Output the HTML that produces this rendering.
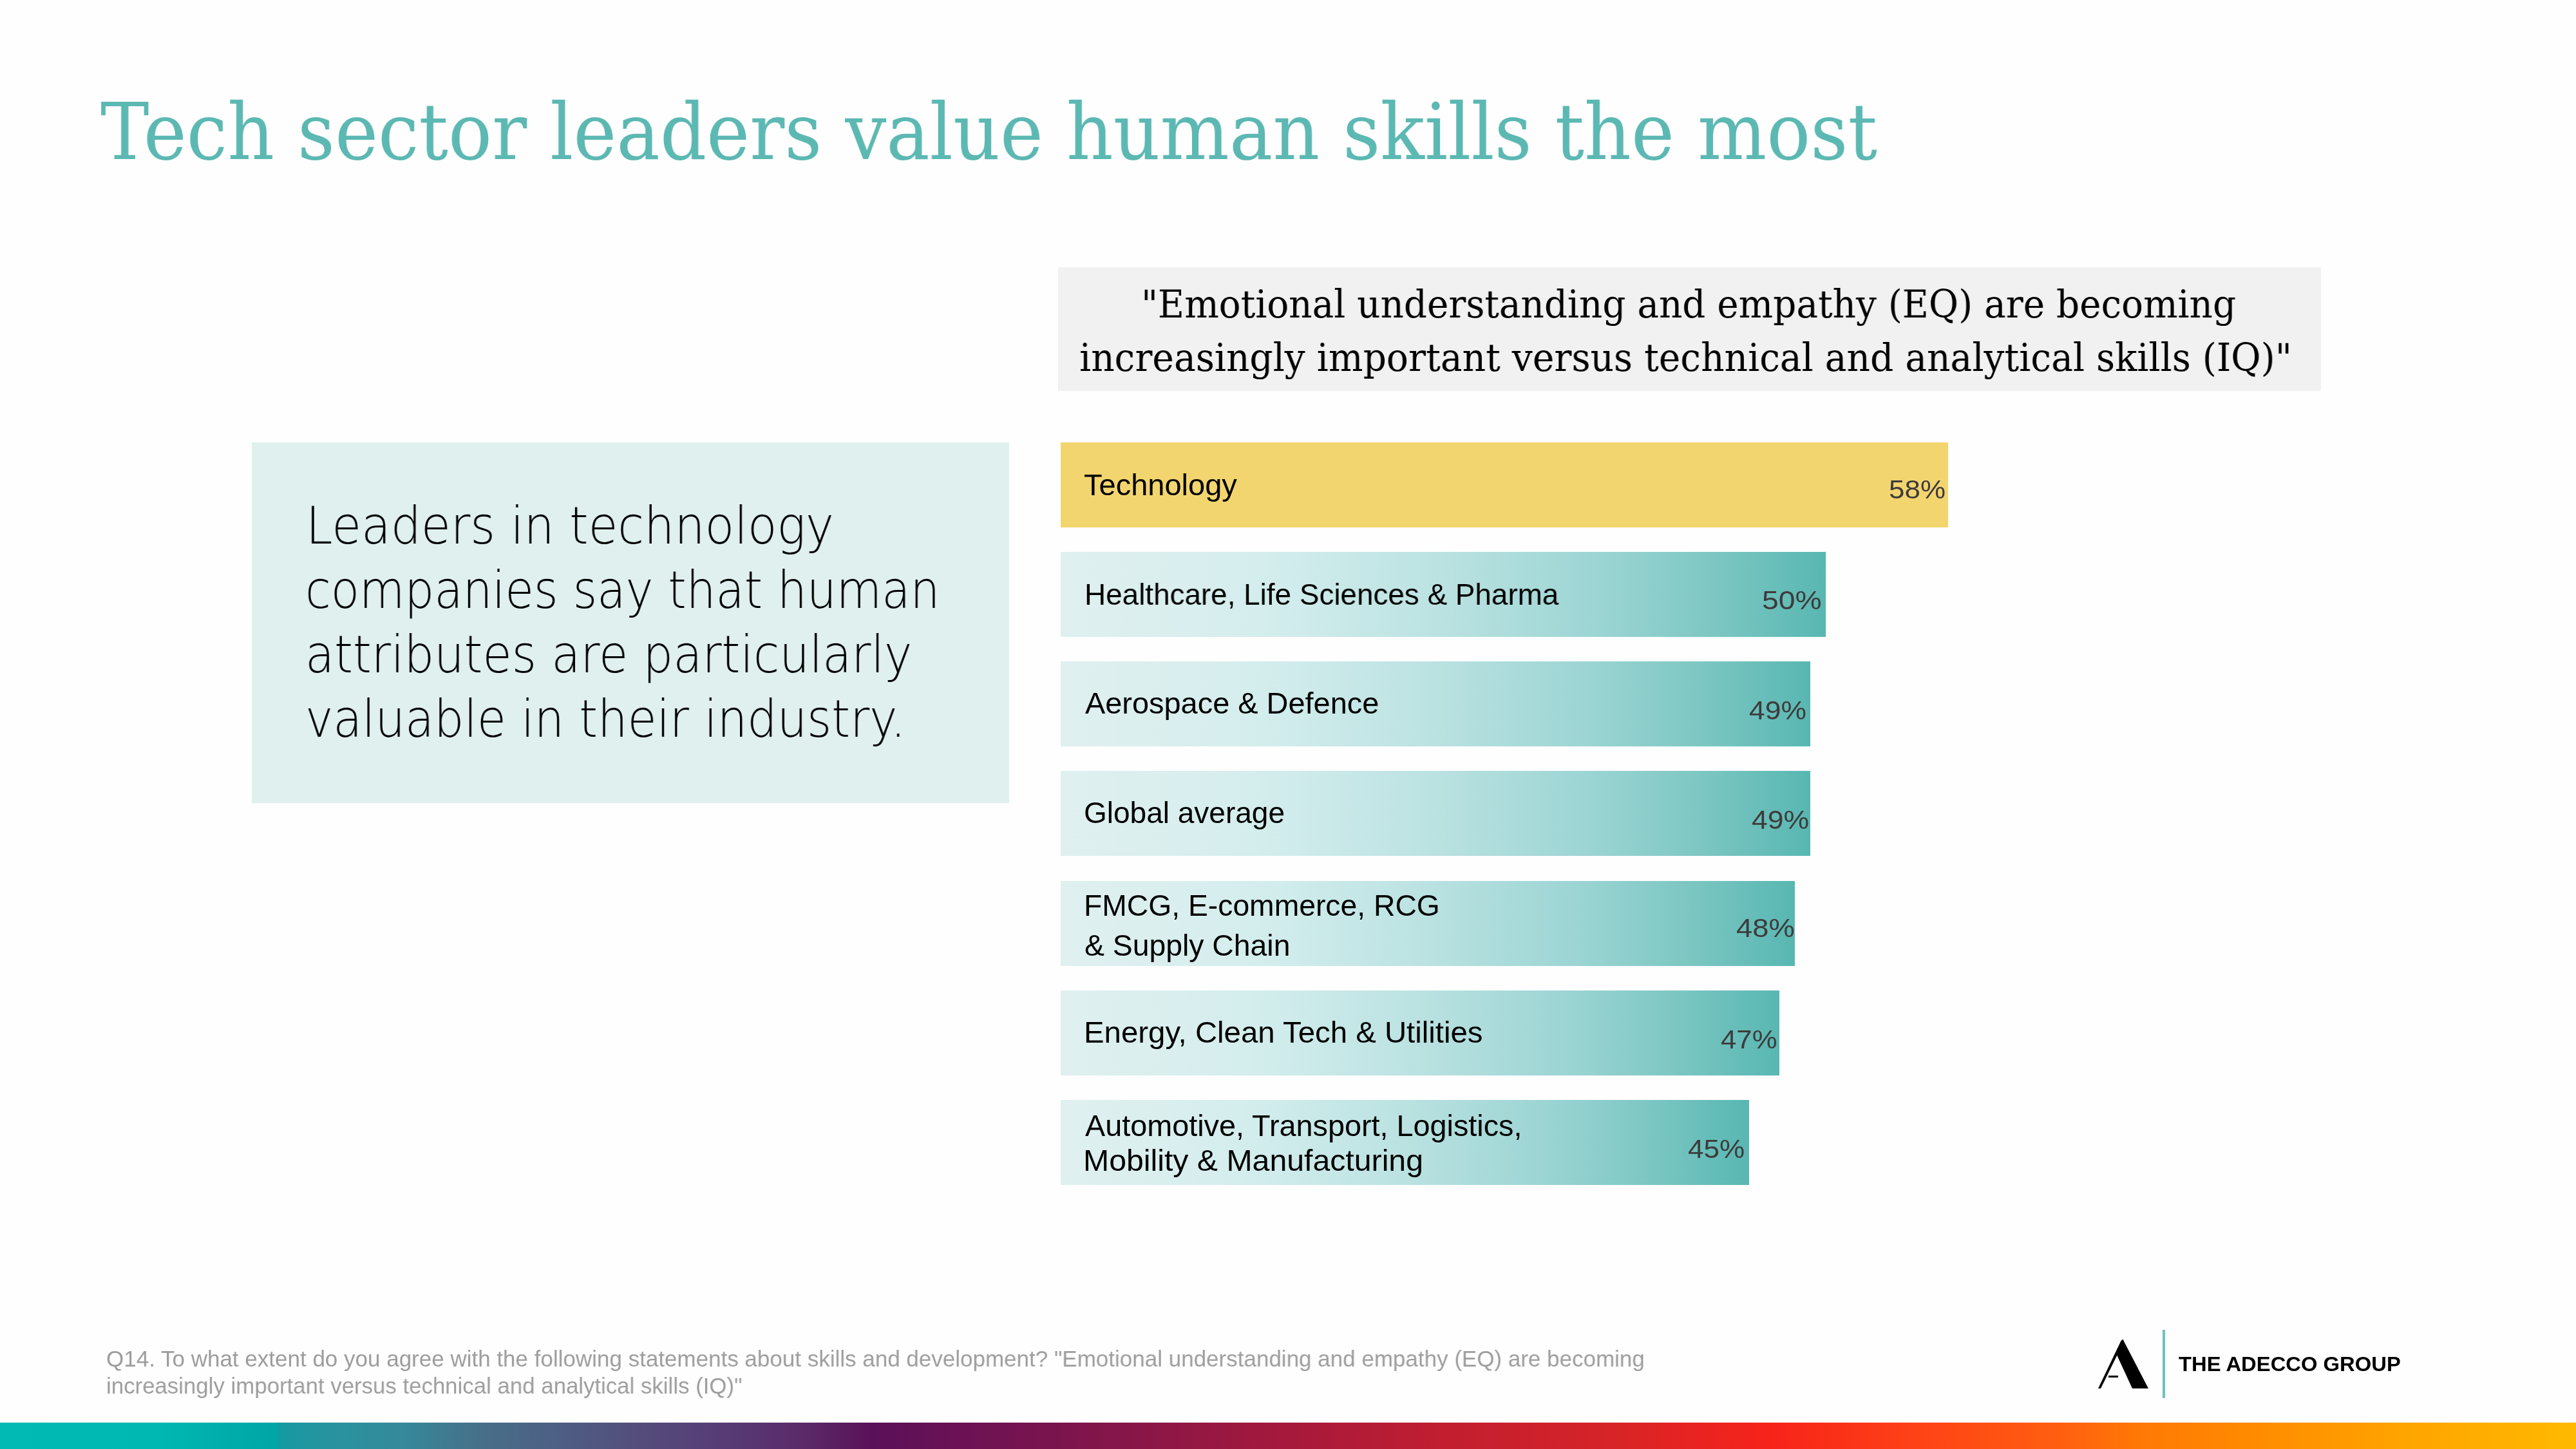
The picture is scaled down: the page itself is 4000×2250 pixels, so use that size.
<!DOCTYPE html>
<html>
<head>
<meta charset="utf-8">
<title>Tech sector leaders value human skills the most</title>
<style>
html,body{margin:0;padding:0;background:#fefefe;}
body{width:4000px;height:2250px;position:relative;overflow:hidden;}
.bg{position:absolute;}
#quote{left:1643px;top:415px;width:1961px;height:192px;background:#f1f1f1;}
#lbox{left:391px;top:687px;width:1176px;height:560px;background:#dff0ef;}
.bar{left:1647px;height:132px;background:linear-gradient(90deg,#dff0ef 0%,#d8eeee 20%,#d1ecec 30%,#bae2e1 50%,#9cd5d4 70%,#7ec7c3 85%,#58b7b2 100%);}
.bar.y{background:#f3d56f;}
#grad{left:0;top:2208.5px;width:4000px;height:42px;background:linear-gradient(90deg,#00bab3 0%,#00b8b2 6%,#00a5a5 10.78%,#139aa2 10.8%,#26949f 12.5%,#35899a 15.6%,#476f89 18.75%,#4e5d84 21.9%,#544c7a 25%,#563c76 28%,#5a2a68 31.25%,#5a1058 33.9%,#6c1254 37.5%,#861648 43.75%,#a6193c 50%,#c21e30 56.25%,#d62428 62.5%,#f7231a 68.75%,#ff4516 75%,#ff5f10 80%,#ff7a05 83.25%,#ff8b00 87.5%,#ffa600 93.75%,#ffb900 100%);}
#vline{left:3358px;top:2065px;width:4px;height:106px;background:#6cc3bd;}
#amark{left:3250px;top:2070px;}
.tx{position:absolute;white-space:nowrap;line-height:1;transform-origin:0 0;margin:0;will-change:transform;}
</style>
</head>
<body>
<div id="quote" class="bg"></div>
<div id="lbox" class="bg"></div>
<div class="bg bar y" style="top:686.5px;width:1378px"></div>
<div class="bg bar" style="top:856.75px;width:1188px"></div>
<div class="bg bar" style="top:1027px;width:1164px"></div>
<div class="bg bar" style="top:1197.25px;width:1164px"></div>
<div class="bg bar" style="top:1367.5px;width:1140px"></div>
<div class="bg bar" style="top:1537.75px;width:1116px"></div>
<div class="bg bar" style="top:1708px;width:1069px"></div>
<svg id="amark" class="bg" width="100" height="100" viewBox="3250 2070 100 100">
  <polygon points="3296,2079 3336,2156 3311,2156 3287,2104" fill="#000"/>
  <polygon points="3294,2081 3298,2083 3262,2156 3258,2156" fill="#000"/>
  <rect x="3274" y="2136" width="15" height="3" fill="#000"/>
</svg>
<div id="vline" class="bg"></div>
<div id="grad" class="bg"></div>

<div class="tx" id="title" style="left:156.07px;top:143.60px;font-family:'DejaVu Serif','Liberation Serif',serif;font-size:122px;color:#5cb8b2;transform:scaleX(0.9277);">Tech sector leaders value human skills the most</div>
<div class="tx" id="q1" style="left:1772.33px;top:441.70px;font-family:'DejaVu Serif','Liberation Serif',serif;font-size:60px;color:#000;transform:scaleX(0.9401);">"Emotional understanding and empathy (EQ) are becoming</div>
<div class="tx" id="q2" style="left:1676.11px;top:524.91px;font-family:'DejaVu Serif','Liberation Serif',serif;font-size:60px;color:#000;transform:scaleX(0.9441);">increasingly important versus technical and analytical skills (IQ)"</div>
<div class="tx" id="lb1" style="left:474.66px;top:777.20px;font-family:'DejaVu Sans','Liberation Sans',sans-serif;font-weight:200;font-size:80px;color:#000;transform:scaleX(0.9306);">Leaders in technology</div>
<div class="tx" id="lb2" style="left:474.45px;top:876.50px;font-family:'DejaVu Sans','Liberation Sans',sans-serif;font-weight:200;font-size:80px;color:#000;transform:scaleX(0.9035);">companies say that human</div>
<div class="tx" id="lb3" style="left:473.54px;top:976.70px;font-family:'DejaVu Sans','Liberation Sans',sans-serif;font-weight:200;font-size:80px;color:#000;transform:scaleX(0.9189);">attributes are particularly</div>
<div class="tx" id="lb4" style="left:474.44px;top:1077.20px;font-family:'DejaVu Sans','Liberation Sans',sans-serif;font-weight:200;font-size:80px;color:#000;transform:scaleX(0.9159);">valuable in their industry.</div>
<div class="tx" id="t1" style="left:1682.98px;top:729.81px;font-family:'Liberation Sans','DejaVu Sans',sans-serif;font-size:46px;color:#000;transform:scaleX(1.0220);">Technology</div>
<div class="tx" id="t2" style="left:1684.01px;top:900.01px;font-family:'Liberation Sans','DejaVu Sans',sans-serif;font-size:46px;color:#000;transform:scaleX(0.9965);">Healthcare, Life Sciences &amp; Pharma</div>
<div class="tx" id="t3" style="left:1685.00px;top:1069.10px;font-family:'Liberation Sans','DejaVu Sans',sans-serif;font-size:46px;color:#000;transform:scaleX(1.0197);">Aerospace &amp; Defence</div>
<div class="tx" id="t4" style="left:1683.00px;top:1239.10px;font-family:'Liberation Sans','DejaVu Sans',sans-serif;font-size:46px;color:#000;transform:scaleX(0.9990);">Global average</div>
<div class="tx" id="t5a" style="left:1682.98px;top:1382.70px;font-family:'Liberation Sans','DejaVu Sans',sans-serif;font-size:46px;color:#000;transform:scaleX(1.0061);">FMCG, E-commerce, RCG</div>
<div class="tx" id="t5b" style="left:1683.99px;top:1445.10px;font-family:'Liberation Sans','DejaVu Sans',sans-serif;font-size:46px;color:#000;transform:scaleX(1.0073);">&amp; Supply Chain</div>
<div class="tx" id="t6" style="left:1682.90px;top:1579.70px;font-family:'Liberation Sans','DejaVu Sans',sans-serif;font-size:46px;color:#000;transform:scaleX(1.0297);">Energy, Clean Tech &amp; Utilities</div>
<div class="tx" id="t7a" style="left:1684.99px;top:1724.70px;font-family:'Liberation Sans','DejaVu Sans',sans-serif;font-size:46px;color:#000;transform:scaleX(1.0167);">Automotive, Transport, Logistics,</div>
<div class="tx" id="t7b" style="left:1681.82px;top:1778.60px;font-family:'Liberation Sans','DejaVu Sans',sans-serif;font-size:46px;color:#000;transform:scaleX(1.0483);">Mobility &amp; Manufacturing</div>
<div class="tx" id="p1" style="left:2933.45px;top:739.51px;font-family:'Liberation Sans','DejaVu Sans',sans-serif;font-size:41px;color:#3d3b3c;transform:scaleX(1.0722);">58%</div>
<div class="tx" id="p2" style="left:2736.09px;top:912.22px;font-family:'Liberation Sans','DejaVu Sans',sans-serif;font-size:41px;color:#3d3b3c;transform:scaleX(1.1304);">50%</div>
<div class="tx" id="p3" style="left:2715.92px;top:1083.30px;font-family:'Liberation Sans','DejaVu Sans',sans-serif;font-size:41px;color:#3d3b3c;transform:scaleX(1.0838);">49%</div>
<div class="tx" id="p4" style="left:2719.91px;top:1253.41px;font-family:'Liberation Sans','DejaVu Sans',sans-serif;font-size:41px;color:#3d3b3c;transform:scaleX(1.0875);">49%</div>
<div class="tx" id="p5" style="left:2695.89px;top:1420.60px;font-family:'Liberation Sans','DejaVu Sans',sans-serif;font-size:41px;color:#3d3b3c;transform:scaleX(1.1051);">48%</div>
<div class="tx" id="p6" style="left:2671.53px;top:1594.22px;font-family:'Liberation Sans','DejaVu Sans',sans-serif;font-size:41px;color:#3d3b3c;transform:scaleX(1.0663);">47%</div>
<div class="tx" id="p7" style="left:2620.93px;top:1764.22px;font-family:'Liberation Sans','DejaVu Sans',sans-serif;font-size:41px;color:#3d3b3c;transform:scaleX(1.0750);">45%</div>
<div class="tx" id="f1" style="left:165.00px;top:2091.70px;font-family:'Liberation Sans','DejaVu Sans',sans-serif;font-size:35px;color:#9d9d9d;transform:scaleX(0.9998);">Q14. To what extent do you agree with the following statements about skills and development? "Emotional understanding and empathy (EQ) are becoming</div>
<div class="tx" id="f2" style="left:165.01px;top:2133.70px;font-family:'Liberation Sans','DejaVu Sans',sans-serif;font-size:35px;color:#9d9d9d;transform:scaleX(0.9945);">increasingly important versus technical and analytical skills (IQ)"</div>
<div class="tx" id="logo" style="left:3382.98px;top:2102.51px;font-family:'Liberation Sans','DejaVu Sans',sans-serif;font-weight:bold;font-size:31px;color:#000;transform:scaleX(1.0572);">THE ADECCO GROUP</div>
</body>
</html>
